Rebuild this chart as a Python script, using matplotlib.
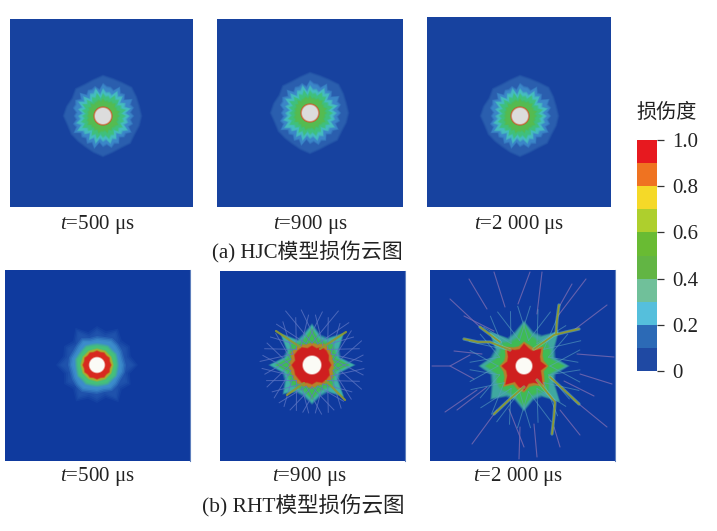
import matplotlib
matplotlib.use('Agg')
import matplotlib.pyplot as plt
import numpy as np
from matplotlib.colors import ListedColormap, BoundaryNorm

plt.rcParams['font.family'] = ['Liberation Serif', 'Noto Sans CJK SC', 'DejaVu Sans']
plt.rcParams['mathtext.fontset'] = 'custom'
plt.rcParams['mathtext.it'] = 'Liberation Serif:italic'
plt.rcParams['mathtext.rm'] = 'Liberation Serif'

W, H = 717, 531

# legend
bar_edges = [0, 0.1, 0.2, 0.3, 0.4, 0.5, 0.6, 0.7, 0.8, 0.9, 1.0]
bar_colors = ['#1f49a3', '#2c6ab6', '#55bfdc', '#70c09a', '#62b544',
              '#69bb33', '#aecf2d', '#f5d928', '#ef7321', '#e7191f']
bar_ticks = [0, 0.2, 0.4, 0.6, 0.8, 1.0]
bar_ticklabels = ['0', '0.2', '0.4', '0.6', '0.8', '1.0']

time_labels = ['$t$=500 μs', '$t$=900 μs', '$t$=2 000 μs']
hjc_label_x = [97, 310, 519]
rht_label_x = [97, 309, 518]

# HJC: damage band outlines, radius per angle (counter clockwise from +x)
hjc_outer = [38, 37, 38, 40, 38, 38, 40, 37, 36, 38, 35, 37,
             39, 36, 36, 35, 35, 37, 40, 37, 36, 38, 36, 37]
hjc_blue = [30, 27, 31, 29, 33, 26, 30, 28, 33, 27, 29, 29, 32, 26, 30, 28,
            29, 26, 32, 27, 31, 29, 30, 26, 28, 26, 30, 28, 33, 27, 29, 27,
            31, 28, 33, 26, 30, 28, 32, 29, 31, 26, 29, 28, 32, 27, 30, 27]
hjc_cyan = [26, 22, 28, 23, 25, 21, 27, 24, 28, 22, 24, 23, 27, 21, 28, 24,
            25, 21, 27, 23, 28, 22, 25, 20, 24, 22, 27, 23, 29, 24, 25, 21,
            27, 23, 28, 22, 25, 23, 28, 24, 26, 21, 25, 24, 28, 22, 25, 23]
hjc_teal = [22, 18, 23, 19, 20, 17, 22, 20, 23, 18, 20, 19, 22, 17, 23, 19,
            21, 17, 22, 19, 23, 18, 21, 17, 20, 18, 22, 19, 23, 19, 20, 17,
            22, 19, 23, 18, 21, 19, 23, 20, 21, 17, 21, 19, 22, 18, 21, 19]
hjc_green = [16, 14, 17, 14, 15, 14, 17, 15, 16, 14, 15, 14, 17, 14, 16, 15,
             15, 14, 17, 14, 16, 14, 15, 14, 15, 14, 16, 15, 17, 14, 15, 14,
             16, 14, 17, 15, 15, 14, 17, 14, 16, 14, 15, 15, 17, 14, 15, 14]
hjc_centers = [(103, 116), (310, 113), (520, 116)]
hjc_boxes = [(10, 19, 193, 207), (217, 19, 403, 207), (427, 17, 611, 207)]

# RHT t=500
rht500_halo = [37, 31, 34, 31, 38, 31, 35, 30, 39, 30, 34, 31,
               37, 30, 34, 30, 38, 31, 34, 30, 39, 31, 35, 30]
rht500_blue = [26, 25, 26, 27, 28, 26, 26, 25, 28, 26, 25, 26,
               26, 25, 26, 27, 28, 26, 26, 25, 27, 26, 25, 26]
rht500_green = [20, 20, 21, 20, 21, 20, 20, 20, 21, 20, 20, 21,
                20, 20, 21, 20, 21, 20, 20, 20, 21, 20, 21, 20]
rht500_yellow = [16, 16, 16, 16, 16, 16, 16, 16, 16, 16, 16, 16]
rht500_red = [14, 13, 14, 13, 14, 13, 14, 13, 14, 13, 14, 13,
              14, 13, 14, 13, 14, 13, 14, 13, 14, 13, 14, 13]

# RHT t=900
rht900_cyan = [42, 28, 30, 44, 30, 30, 40, 31, 28, 44, 28, 28,
               42, 29, 30, 40, 30, 31, 38, 31, 30, 44, 29, 28]
rht900_green = [37, 25, 26, 29, 26, 26, 36, 27, 25, 29, 25, 25,
                36, 25, 26, 28, 26, 27, 34, 27, 26, 29, 25, 24]
rht900_orange = [22, 21, 22, 23, 24, 21, 22, 21, 23, 23, 24, 21,
                 23, 22, 22, 23, 23, 22, 23, 21, 22, 23, 24, 21]
rht900_red = [19, 17, 19, 20, 20, 17, 19, 17, 20, 20, 20, 17,
              20, 18, 19, 19, 20, 18, 19, 17, 20, 20, 20, 17]
rht900_crack_ang = [0, 15, 30, 45, 60, 75, 90, 105, 120, 135, 150, 165,
                    180, 195, 210, 225, 240, 255, 270, 285, 300, 315, 330, 345]
rht900_crack_r = [55, 52, 50, 50, 50, 56, 60, 54, 50, 50, 52, 48,
                  50, 50, 50, 48, 48, 50, 50, 48, 48, 50, 52, 52]
rht900_arms = [
    [(-36, 34), (-12, 18)], [(34, 33), (8, 16)],
    [(-25, -30), (-8, -18)], [(33, -35), (14, -16)],
]

# RHT t=2000
rht2000_cyan = [44, 31, 34, 48, 34, 34, 44, 34, 31, 48, 32, 33,
                44, 33, 36, 46, 34, 34, 44, 34, 34, 50, 34, 31]
rht2000_green = [40, 27, 30, 32, 28, 30, 42, 28, 27, 32, 27, 28,
                 38, 28, 31, 32, 30, 31, 40, 30, 30, 34, 28, 27]
rht2000_orange = [24, 20, 21, 27, 20, 21, 24, 20, 21, 27, 21, 20,
                  24, 21, 22, 29, 21, 24, 26, 21, 22, 29, 23, 20]
rht2000_red = [22, 17, 18, 24, 17, 18, 22, 17, 18, 24, 18, 17,
               22, 18, 19, 26, 18, 21, 24, 18, 19, 26, 20, 17]
rht2000_thin_cracks = [
    [(-92, 0), (-74, 0), (-54, 11)], [(-74, 0), (-50, -13)], [(-74, 67), (-44, 39)],
    [(-55, 87), (-37, 57)], [(-30, 94), (-19, 59)], [(6, 94), (-6, 62)],
    [(18, 94), (13, 52)], [(62, 87), (33, 49)], [(48, 82), (35, 59)],
    [(83, 61), (50, 36)], [(90, 9), (53, 12)], [(88, -18), (56, -8)],
    [(83, -61), (50, -34)], [(56, -69), (36, -44)], [(36, -81), (30, -61)],
    [(13, -91), (10, -58)], [(-5, -93), (-4, -61)], [(0, -81), (-15, -43)],
    [(-52, -78), (-27, -44)], [(-79, -46), (-47, -24)], [(-67, -44), (-37, -21)],
    [(-60, 50), (-30, 35)], [(-70, 15), (-42, 12)], [(70, -30), (40, -15)],
]
rht2000_wide_cracks = [
    [(-60, 27), (-46, 24), (-34, 24), (-14, 16)], [(-44, 39), (-24, 24)],
    [(55, 37), (42, 34), (30, 31), (10, 17)], [(35, 61), (33, 46), (32, 32)],
    [(28, -68), (30, -50), (31, -36), (13, -14)], [(55, -38), (40, -24), (26, -11)],
    [(-30, -48), (-14, -33), (0, -21)],
]
rht2000_hatch_ang = [0, 20, 40, 60, 80, 100, 120, 140, 160,
                     180, 200, 220, 240, 260, 280, 300, 320, 340]
rht2000_hatch_r = [58, 54, 62, 58, 60, 60, 56, 60, 54,
                   56, 54, 58, 60, 62, 62, 58, 60, 56]
rht_centers = [(97, 365), (312, 365), (524, 366)]
rht_boxes = [(5, 270, 190, 461), (220, 271, 405, 461), (430, 270, 615, 461)]


def panel(box, center, bg):
    l, t, r, b = box
    cx, cy = center
    ax = fig.add_axes([l / W, 1 - b / H, (r - l) / W, (b - t) / H])
    ax.set_xlim(l - cx, r - cx)
    ax.set_ylim(cy - b, cy - t)
    ax.set_facecolor(bg)
    ax.set_xticks([])
    ax.set_yticks([])
    for s in ax.spines.values():
        s.set_visible(False)
    ax.spines['right'].set_visible(True)
    ax.spines['right'].set_color('#5f80bd')
    ax.spines['right'].set_linewidth(0.8)
    return ax


def band(ax, radii, color, soft=2.0):
    # soft edge, the reference image is blurry
    ang = np.deg2rad(np.linspace(0, 360, len(radii), endpoint=False))
    rr = np.array(radii, dtype=float)
    for d, a in ((soft, 0.3), (soft / 2, 0.45), (0, 0.7), (-soft / 2, 1.0)):
        ax.fill((rr + d) * np.cos(ang), (rr + d) * np.sin(ang), color=color, alpha=a, lw=0)


def hole(ax, r, color, ring=None):
    t = np.linspace(0, 2 * np.pi, 60)
    if ring:
        ax.fill((r + 1.6) * np.cos(t), (r + 1.6) * np.sin(t), color=ring, lw=0)
    ax.fill((r + 0.8) * np.cos(t), (r + 0.8) * np.sin(t), color=color, alpha=0.5, lw=0)
    ax.fill(r * np.cos(t), r * np.sin(t), color=color, lw=0)


def hatch(ax, angs, radii, r0, skews, color, lw, alpha):
    for a, rr in zip(angs, radii):
        for skew in skews:
            a0, a1 = np.deg2rad(a), np.deg2rad(a + skew)
            ax.plot([r0 * np.cos(a0), rr * np.cos(a1)], [r0 * np.sin(a0), rr * np.sin(a1)],
                    color=color, lw=lw, alpha=alpha)


def polylines(ax, lines, color, lw, alpha):
    for pts in lines:
        x, y = zip(*pts)
        ax.plot(x, y, color=color, lw=lw, alpha=alpha, solid_capstyle='round')


fig = plt.figure(figsize=(W / 100, H / 100), dpi=100)

# (a) HJC
for box, c in zip(hjc_boxes, hjc_centers):
    ax = panel(box, c, '#17429f')
    ax.spines['right'].set_visible(False)
    band(ax, hjc_outer, '#2a5eae', soft=1.5)
    band(ax, hjc_blue, '#3b86c8', soft=1.5)
    band(ax, hjc_cyan, '#45bcc0', soft=1.5)
    band(ax, hjc_teal, '#3fc07c', soft=1.5)
    band(ax, hjc_green, '#55bb50', soft=1.5)
    hole(ax, 8, '#dcdcdc', ring='#c0602a')

# (b) RHT t=500
ax = panel(rht_boxes[0], rht_centers[0], '#0f3a9e')
band(ax, rht500_halo, '#1f52ac', soft=4)
band(ax, rht500_blue, '#3c8ccb', soft=3)
band(ax, rht500_green, '#45c07a', soft=2)
band(ax, rht500_yellow, '#a8b030', soft=1)
band(ax, rht500_red, '#d8291f', soft=1)
hole(ax, 7.5, '#fbfbf6')

# (b) RHT t=900
ax = panel(rht_boxes[1], rht_centers[1], '#0f3a9e')
hatch(ax, rht900_crack_ang, rht900_crack_r, 22, (-26, 26), '#5e76c4', 0.7, 0.75)
band(ax, rht900_cyan, '#3fb0a8', soft=2)
band(ax, rht900_green, '#3fbb55', soft=2)
polylines(ax, rht900_arms, '#8f9a30', 1.6, 0.9)
band(ax, rht900_orange, '#b8802a', soft=1)
band(ax, rht900_red, '#cf1f1f', soft=1)
hole(ax, 9, '#fbfbf6')

# (b) RHT t=2000
ax = panel(rht_boxes[2], rht_centers[2], '#0f3a9e')
polylines(ax, rht2000_thin_cracks, '#7468b0', 0.8, 0.85)
hatch(ax, rht2000_hatch_ang, rht2000_hatch_r, 26, (-16, 16), '#58a0c0', 0.7, 0.6)
band(ax, rht2000_cyan, '#3fa8a0', soft=2)
band(ax, rht2000_green, '#3fbb55', soft=2)
polylines(ax, rht2000_wide_cracks, '#7fd0c0', 2.4, 0.45)
polylines(ax, rht2000_wide_cracks, '#8f9a30', 1.2, 1.0)
band(ax, rht2000_orange, '#b8802a', soft=1)
band(ax, rht2000_red, '#cf1f1f', soft=1)
hole(ax, 8, '#fbfbf6')

# time labels
for x, s in zip(hjc_label_x, time_labels):
    fig.text(x / W, 1 - 224 / H, s, ha='center', va='center', fontsize=15, color='#222222')
for x, s in zip(rht_label_x, time_labels):
    fig.text(x / W, 1 - 476 / H, s, ha='center', va='center', fontsize=15, color='#222222')
fig.text(307 / W, 1 - 252 / H, '(a) HJC模型损伤云图', ha='center', va='center', fontsize=15, color='#222222')
fig.text(303.5 / W, 1 - 505 / H, '(b) RHT模型损伤云图', ha='center', va='center', fontsize=15.5, color='#222222')

# colour bar
cax = fig.add_axes([637 / W, 1 - 371 / H, 20 / W, 231 / H])
cmap = ListedColormap(bar_colors)
norm = BoundaryNorm(bar_edges, cmap.N)
cax.pcolormesh([0, 1], bar_edges, np.array(bar_edges[:-1]).reshape(-1, 1) + 0.05, cmap=cmap, norm=norm)
cax.set_xticks([])
cax.yaxis.tick_right()
cax.set_yticks(bar_ticks)
cax.set_yticklabels(bar_ticklabels, fontsize=15, color='#222222')
cax.tick_params(axis='y', length=5, width=0.9, color='#333333', pad=6)
for s in cax.spines.values():
    s.set_visible(False)
fig.text(667 / W, 1 - 113 / H, '损伤度', ha='center', va='center', fontsize=14.5, color='#222222')

fig.savefig('out.png', dpi=100)
